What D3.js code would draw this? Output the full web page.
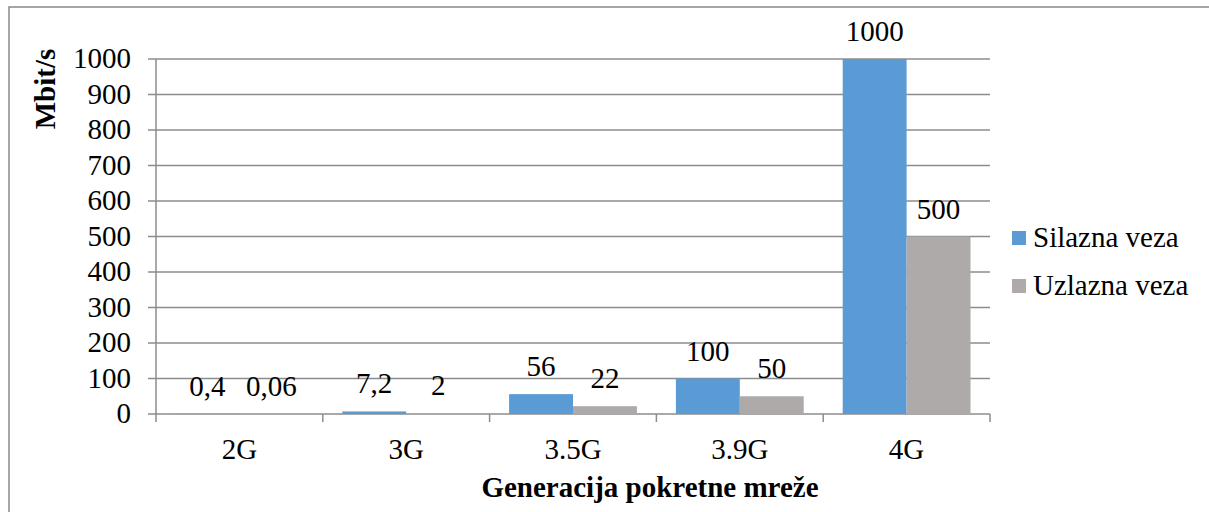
<html>
<head>
<style>
  body { margin: 0; background: #fff; }
</style>
</head>
<body>
<svg id="chart" width="1209" height="512" font-family="'Liberation Serif', 'Times New Roman', 'DejaVu Serif', serif"></svg>
<script src="https://cdn.jsdelivr.net/npm/d3@7"></script>
<script>
  // data
  let categories = ["2G", "3G", "3.5G", "3.9G", "4G"]
  let downlink = [0.4, 7.2, 56, 100, 1000]
  let uplink = [0.06, 2, 22, 50, 500]
  let seriesNames = ["Silazna veza", "Uzlazna veza"]
  let yTicks = [0, 100, 200, 300, 400, 500, 600, 700, 800, 900, 1000]

  let colors = ["#5B9BD5", "#AEAAAA"]
  let gridColor = "#8C8C8C"
  let fs = "29px"

  let svg = d3.select("#chart")

  // outer frame (right edge is off the picture)
  svg.append("rect")
    .attr("x", 9).attr("y", 7)
    .attr("width", 1230).attr("height", 540)
    .attr("fill", "none")
    .attr("stroke", "#888")
    .attr("stroke-width", 1.5)

  let plotLeft = 156, plotRight = 990, plotTop = 59, plotBottom = 414

  let x = d3.scaleBand().domain(categories).range([plotLeft, plotRight])
  let x1 = d3.scaleBand().domain([0, 1]).range([0, x.bandwidth()]).paddingOuter(0.305).paddingInner(0)
  let y = d3.scaleLinear().domain([0, 1000]).range([plotBottom, plotTop])

  // grid
  svg.append("g").selectAll("line")
    .data(yTicks)
    .enter().append("line")
    .attr("x1", plotLeft - 8).attr("x2", plotRight)
    .attr("y1", d => y(d)).attr("y2", d => y(d))
    .attr("stroke", gridColor).attr("stroke-width", 1.5)

  // y axis line
  svg.append("line")
    .attr("x1", plotLeft).attr("x2", plotLeft)
    .attr("y1", plotTop).attr("y2", plotBottom)
    .attr("stroke", gridColor).attr("stroke-width", 1.5)

  // x ticks at band edges
  let edges = categories.map(c => x(c)).concat([plotRight])
  svg.append("g").selectAll("line")
    .data(edges)
    .enter().append("line")
    .attr("x1", d => d).attr("x2", d => d)
    .attr("y1", plotBottom).attr("y2", plotBottom + 8)
    .attr("stroke", gridColor).attr("stroke-width", 1.5)

  // y tick labels
  svg.append("g").selectAll("text")
    .data(yTicks)
    .enter().append("text")
    .attr("x", 131).attr("y", d => y(d) + 9)
    .attr("text-anchor", "end")
    .style("font-size", fs)
    .text(d => d)

  // category labels
  svg.append("g").selectAll("text")
    .data(categories)
    .enter().append("text")
    .attr("x", d => x(d) + x.bandwidth() / 2)
    .attr("y", 459)
    .attr("text-anchor", "middle")
    .style("font-size", fs)
    .text(d => d)

  // bars
  let series = [downlink, uplink]
  series.forEach((vals, s) => {
    let g = svg.append("g")
    g.selectAll("rect")
      .data(vals)
      .enter().append("rect")
      .attr("x", (d, i) => x(categories[i]) + x1(s))
      .attr("width", x1.bandwidth())
      .attr("y", d => y(d))
      .attr("height", d => plotBottom - y(d))
      .attr("fill", colors[s])

    g.selectAll("text")
      .data(vals)
      .enter().append("text")
      .attr("x", (d, i) => x(categories[i]) + x1(s) + x1.bandwidth() / 2)
      .attr("y", d => y(d) - 18)
      .attr("text-anchor", "middle")
      .style("font-size", fs)
      .text(d => String(d).replace(".", ","))
  })

  // axis titles
  svg.append("text")
    .attr("x", 650).attr("y", 497)
    .attr("text-anchor", "middle")
    .style("font-size", fs).style("font-weight", "bold")
    .text("Generacija pokretne mreže")

  svg.append("text")
    .attr("transform", "translate(55,89) rotate(-90)")
    .attr("text-anchor", "middle")
    .style("font-size", fs).style("font-weight", "bold")
    .text("Mbit/s")

  // legend
  let legend = svg.append("g")
  seriesNames.forEach((name, i) => {
    let ly = 238 + i * 48
    legend.append("rect")
      .attr("x", 1012).attr("y", ly - 7)
      .attr("width", 14).attr("height", 14)
      .attr("fill", colors[i])
    legend.append("text")
      .attr("x", 1033).attr("y", ly + 9)
      .style("font-size", fs)
      .text(name)
  })
</script>
</body>
</html>
